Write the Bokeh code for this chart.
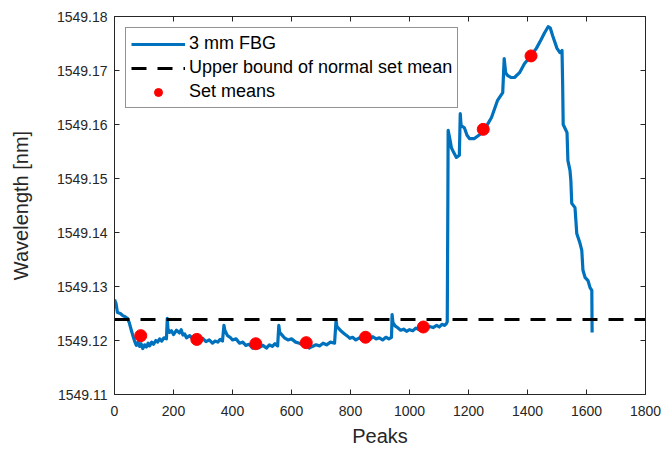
from bokeh.plotting import figure
from bokeh.models import (LinearAxis, FixedTicker, PrintfTickFormatter, CustomJSTickFormatter,
                          Range1d, Legend, LegendItem)
from bokeh.embed import file_html
from bokeh.resources import INLINE

# ---- data ----
peaks = [0, 5, 10, 20, 28, 36, 44, 50, 57, 65, 70, 74, 80, 85, 90, 96, 102, 108, 114, 119, 126, 132, 140,
         146, 153, 160, 168, 176, 179, 181, 186, 193, 200, 210, 220, 226, 232, 238, 244, 255, 265, 276,
         288, 299, 310, 321, 332, 341, 350, 358, 366, 371, 374, 383, 392, 400, 412, 424, 435, 445, 456,
         468, 479, 490, 503, 515, 525, 535, 544, 553, 557, 560, 568, 576, 588, 600, 614, 627, 638, 650,
         660, 671, 683, 695, 707, 719, 732, 746, 751, 754, 762, 769, 780, 790, 798, 807, 818, 830, 842,
         854, 865, 876, 887, 898, 909, 920, 930, 939, 941, 944, 951, 959, 970, 980, 990, 1000, 1011,
         1022, 1033, 1044, 1056, 1068, 1080, 1092, 1101, 1110, 1118, 1125, 1128, 1130,
         1131, 1138, 1142, 1150, 1159, 1169, 1172, 1175, 1186, 1195, 1203, 1220, 1235, 1247, 1262, 1278,
         1298, 1316, 1321, 1326, 1332, 1345, 1356, 1373, 1390, 1410, 1430, 1445, 1458, 1470, 1477, 1485,
         1500, 1510, 1517, 1519, 1521, 1534, 1537, 1544, 1547, 1550, 1561, 1567, 1578, 1584, 1588, 1595,
         1605, 1612, 1618, 1619]
wavelength = [1549.1276, 1549.1269, 1549.1252, 1549.1250, 1549.1246, 1549.1244, 1549.1241, 1549.1233,
              1549.1219, 1549.1204, 1549.1196, 1549.1191, 1549.1197, 1549.1189, 1549.1194, 1549.1185,
              1549.1192, 1549.1188, 1549.1195, 1549.1190, 1549.1197, 1549.1193, 1549.1200, 1549.1197,
              1549.1203, 1549.1199, 1549.1205, 1549.1203, 1549.1241, 1549.1222, 1549.1215, 1549.1218,
              1549.1211, 1549.1219, 1549.1214, 1549.1220, 1549.1210, 1549.1212, 1549.1205, 1549.1209,
              1549.1203, 1549.1207, 1549.1201, 1549.1204, 1549.1198, 1549.1201, 1549.1195, 1549.1199,
              1549.1197, 1549.1202, 1549.1199, 1549.1228, 1549.1219, 1549.1209, 1549.1206, 1549.1201,
              1549.1203, 1549.1195, 1549.1197, 1549.1191, 1549.1193, 1549.1186, 1549.1190, 1549.1187,
              1549.1191, 1549.1186, 1549.1192, 1549.1189, 1549.1194, 1549.1190, 1549.1228, 1549.1215,
              1549.1210, 1549.1205, 1549.1201, 1549.1203, 1549.1197, 1549.1195, 1549.1192, 1549.1193,
              1549.1186, 1549.1189, 1549.1192, 1549.1190, 1549.1195, 1549.1192, 1549.1197, 1549.1195,
              1549.1237, 1549.1226, 1549.1221, 1549.1217, 1549.1212, 1549.1208, 1549.1204, 1549.1206,
              1549.1201, 1549.1205, 1549.1201, 1549.1205, 1549.1202, 1549.1207, 1549.1203, 1549.1205,
              1549.1201, 1549.1206, 1549.1203, 1549.1206, 1549.1248, 1549.1233, 1549.1227, 1549.1224,
              1549.1219, 1549.1221, 1549.1217, 1549.1220, 1549.1218, 1549.1223, 1549.1220, 1549.1224,
              1549.1221, 1549.1226, 1549.1224, 1549.1228, 1549.1225, 1549.1230, 1549.1228, 1549.1231,
              1549.1235, 1549.1459, 1549.1589, 1549.1570, 1549.1557,
              1549.1548, 1549.1539, 1549.1543, 1549.1620, 1549.1598, 1549.1594, 1549.1580, 1549.1574,
              1549.1574, 1549.1580, 1549.1585, 1549.1598, 1549.1613, 1549.1644, 1549.1659, 1549.1722,
              1549.1696, 1549.1691, 1549.1687, 1549.1687, 1549.1696, 1549.1713, 1549.1726, 1549.1741,
              1549.1756, 1549.1770, 1549.1781, 1549.1779, 1549.1765, 1549.1741, 1549.1733, 1549.1737,
              1549.1680, 1549.1600, 1549.1585, 1549.1533, 1549.1515, 1549.1496, 1549.1454, 1549.1446,
              1549.1398, 1549.1380, 1549.1367, 1549.1330, 1549.1317, 1549.1311, 1549.1298, 1549.1293,
              1549.1215]

mean_peaks = [89, 279, 479, 650, 851, 1047, 1250, 1412]
mean_wavelength = [1549.1209, 1549.1202, 1549.1194, 1549.1196, 1549.1206, 1549.1225, 1549.1591, 1549.1727]

upper_bound = 1549.1239
x_limits = [0, 1800]
y_limits = [1549.11, 1549.18]
x_ticks = [0, 200, 400, 600, 800, 1000, 1200, 1400, 1600, 1800]
y_ticks = [1549.11, 1549.12, 1549.13, 1549.14, 1549.15, 1549.16, 1549.17, 1549.18]

FONT = "Liberation Sans"
AX = "#262626"

p = figure(width=667, height=454, output_backend="svg", toolbar_location=None,
           x_range=Range1d(*x_limits), y_range=Range1d(*y_limits),
           min_border_left=114, min_border_right=22, min_border_top=16, min_border_bottom=60,
           x_axis_label="Peaks", y_axis_label="Wavelength [nm]")
p.grid.visible = False
p.outline_line_color = AX
p.outline_line_width = 1
p.background_fill_color = "white"
p.border_fill_color = "white"

def style_axis(ax):
    ax.axis_line_color = AX
    ax.major_tick_line_color = AX
    ax.major_tick_in = 5
    ax.major_tick_out = 0
    ax.minor_tick_line_color = None
    ax.major_label_text_font = FONT
    ax.major_label_text_font_size = "14px"
    ax.major_label_text_color = AX
    ax.axis_label_text_font = FONT
    ax.axis_label_text_font_size = "20px"
    ax.axis_label_text_font_style = "normal"
    ax.axis_label_text_color = AX

xa = p.xaxis[0]
ya = p.yaxis[0]
style_axis(xa)
style_axis(ya)
xa.ticker = FixedTicker(ticks=x_ticks)
ya.ticker = FixedTicker(ticks=y_ticks)
ya.formatter = PrintfTickFormatter(format="%.2f")
xa.major_label_standoff = 11
xa.axis_label_standoff = 6
ya.major_label_standoff = 7
ya.axis_label_standoff = 22

blank = CustomJSTickFormatter(code="return ''")
top = LinearAxis(ticker=FixedTicker(ticks=x_ticks), formatter=blank)
right = LinearAxis(ticker=FixedTicker(ticks=y_ticks), formatter=blank)
for ax in (top, right):
    style_axis(ax)
    ax.major_label_text_font_size = "0px"
    ax.major_label_standoff = 0
p.add_layout(top, "above")
p.add_layout(right, "right")

r_line = p.line(peaks, wavelength, line_color="#0072BD", line_width=3.2, line_join="round")
r_dash = p.line(x_limits, [upper_bound, upper_bound], line_color="black", line_width=3, line_dash="15 11")
r_dots = p.scatter(mean_peaks, mean_wavelength, size=12, fill_color="#FF0000", line_color="#FF0000")

legend = Legend(items=[LegendItem(label="3 mm FBG", renderers=[r_line]),
                       LegendItem(label="Upper bound of normal set mean", renderers=[r_dash]),
                       LegendItem(label="Set means", renderers=[r_dots])],
                location="top_left")
legend.margin = 11
legend.padding = 5
legend.spacing = 3
legend.glyph_width = 54
legend.glyph_height = 20
legend.label_height = 20
legend.label_standoff = 4
legend.label_text_font = FONT
legend.label_text_font_size = "18px"
legend.label_text_color = "black"
legend.border_line_color = AX
legend.border_line_width = 1
legend.background_fill_color = "white"
legend.background_fill_alpha = 1
p.add_layout(legend, "center")

open("out.html", "w").write(file_html(p, INLINE))
